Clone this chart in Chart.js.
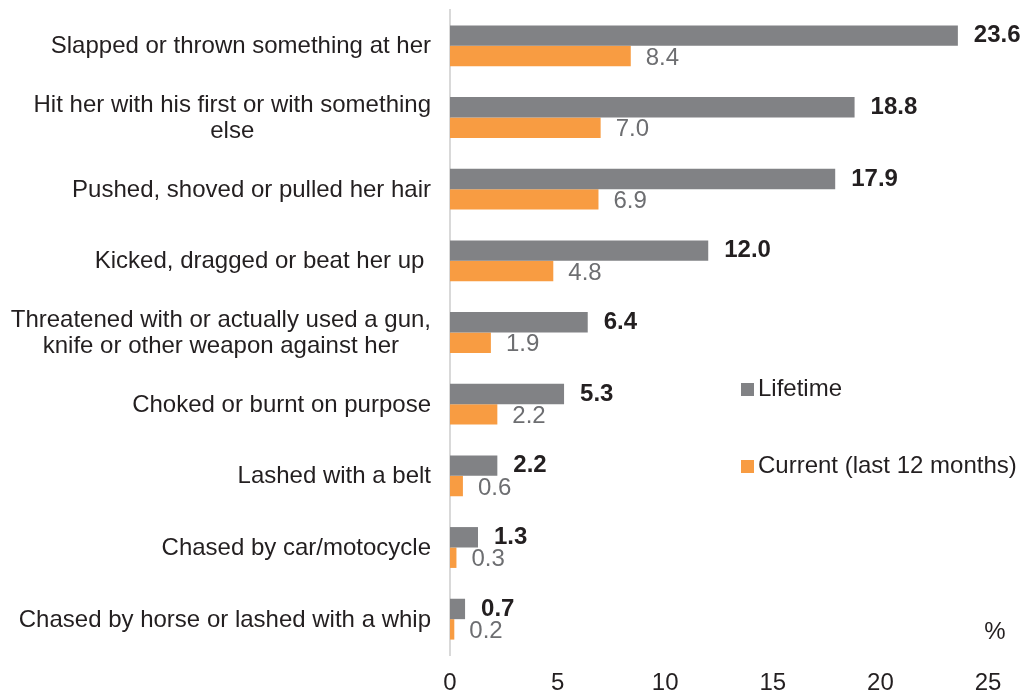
<!DOCTYPE html>
<html>
<head>
<meta charset="utf-8">
<script src="https://cdn.jsdelivr.net/npm/chart.js@4"></script>
<style>
  html, body { margin: 0; padding: 0; background: #fff; }
  canvas { display: block; }
</style>
</head>
<body>
<canvas id="myChart" width="1026" height="695"></canvas>
<script>
// categories (multi-line ones as arrays)
var categories = [
  ['Slapped or thrown something at her'],
  ['Hit her with his first or with something', 'else'],
  ['Pushed, shoved or pulled her hair'],
  ['Kicked, dragged or beat her up '],
  ['Threatened with or actually used a gun,', 'knife or other weapon against her'],
  ['Choked or burnt on purpose'],
  ['Lashed with a belt'],
  ['Chased by car/motocycle'],
  ['Chased by horse or lashed with a whip']
];
var lifetime = [23.6, 18.8, 17.9, 12.0, 6.4, 5.3, 2.2, 1.3, 0.7];
var current = [8.4, 7.0, 6.9, 4.8, 1.9, 2.2, 0.6, 0.3, 0.2];
var seriesNames = ['Lifetime', 'Current (last 12 months)'];
var xTicks = [0, 5, 10, 15, 20, 25];

var GRAY = '#818285';
var ORANGE = '#f89c42';
var FONT = '"Liberation Sans", Arial, sans-serif';
var SIZE = 24;

// labels on the left, right aligned block, lines centered inside it
var categoryLabels = {
  id: 'categoryLabels',
  afterDraw: function(chart) {
    var ctx = chart.ctx;
    var y = chart.scales.y;
    ctx.save();
    ctx.font = SIZE + 'px ' + FONT;
    ctx.fillStyle = '#231f20';
    ctx.textBaseline = 'middle';
    ctx.textAlign = 'center';
    var right = 431;
    categories.forEach(function(lines, i) {
      var yc = y.getPixelForTick(i) + 1;
      var w = 0;
      lines.forEach(function(l) { w = Math.max(w, ctx.measureText(l).width); });
      var cx = right - w / 2;
      var lh = 26;
      lines.forEach(function(l, j) {
        ctx.fillText(l, cx, yc + (j - (lines.length - 1) / 2) * lh);
      });
    });
    ctx.restore();
  }
};

// value labels at bar ends
var valueLabels = {
  id: 'valueLabels',
  afterDatasetsDraw: function(chart) {
    var ctx = chart.ctx;
    ctx.save();
    ctx.textBaseline = 'middle';
    ctx.textAlign = 'left';
    chart.data.datasets.forEach(function(ds, di) {
      var meta = chart.getDatasetMeta(di);
      meta.data.forEach(function(bar, i) {
        if (di === 0) {
          ctx.font = 'bold ' + SIZE + 'px ' + FONT;
          ctx.fillStyle = '#231f20';
          ctx.fillText(ds.data[i].toFixed(1), bar.x + 16, bar.y);
        } else {
          ctx.font = SIZE + 'px ' + FONT;
          ctx.fillStyle = '#6d6e71';
          ctx.fillText(ds.data[i].toFixed(1), bar.x + 15, bar.y + 2);
        }
      });
    });
    ctx.restore();
  }
};

// legend + % sign
var sideLegend = {
  id: 'sideLegend',
  afterDraw: function(chart) {
    var ctx = chart.ctx;
    ctx.save();
    ctx.font = SIZE + 'px ' + FONT;
    ctx.textBaseline = 'middle';
    ctx.textAlign = 'left';
    var colors = [GRAY, ORANGE];
    var ys = [389, 466];
    seriesNames.forEach(function(n, i) {
      ctx.fillStyle = colors[i];
      ctx.fillRect(741, ys[i] - 6, 13, 13);
      ctx.fillStyle = '#231f20';
      ctx.fillText(n, 758, ys[i]);
    });
    ctx.textAlign = 'center';
    ctx.fillText('%', 995, 632);
    ctx.restore();
  }
};

var ctx = document.getElementById('myChart').getContext('2d');
var myChart = new Chart(ctx, {
  type: 'bar',
  data: {
    labels: categories.map(function(c) { return c.join(' '); }),
    datasets: [
      { label: seriesNames[0], data: lifetime, backgroundColor: GRAY,
        categoryPercentage: 0.57, barPercentage: 1.0 },
      { label: seriesNames[1], data: current, backgroundColor: ORANGE,
        categoryPercentage: 0.57, barPercentage: 1.0 }
    ]
  },
  options: {
    indexAxis: 'y',
    responsive: false,
    animation: false,
    layout: { padding: { left: 450, right: 38, top: 10, bottom: 0 } },
    plugins: {
      legend: { display: false },
      tooltip: { enabled: false }
    },
    scales: {
      x: {
        min: 0, max: 25,
        afterBuildTicks: function(scale) {
          scale.ticks = xTicks.map(function(v) { return { value: v }; });
        },
        afterFit: function(scale) { scale.height = 40; },
        grid: { display: false, drawTicks: false },
        border: { display: false },
        ticks: { padding: 14, maxRotation: 0, color: '#231f20', font: { family: FONT, size: SIZE } }
      },
      y: {
        grid: { display: false, drawTicks: false },
        border: { display: true, color: '#d9d9d9', width: 2 },
        ticks: { display: false }
      }
    }
  },
  plugins: [categoryLabels, valueLabels, sideLegend]
});
</script>
</body>
</html>
